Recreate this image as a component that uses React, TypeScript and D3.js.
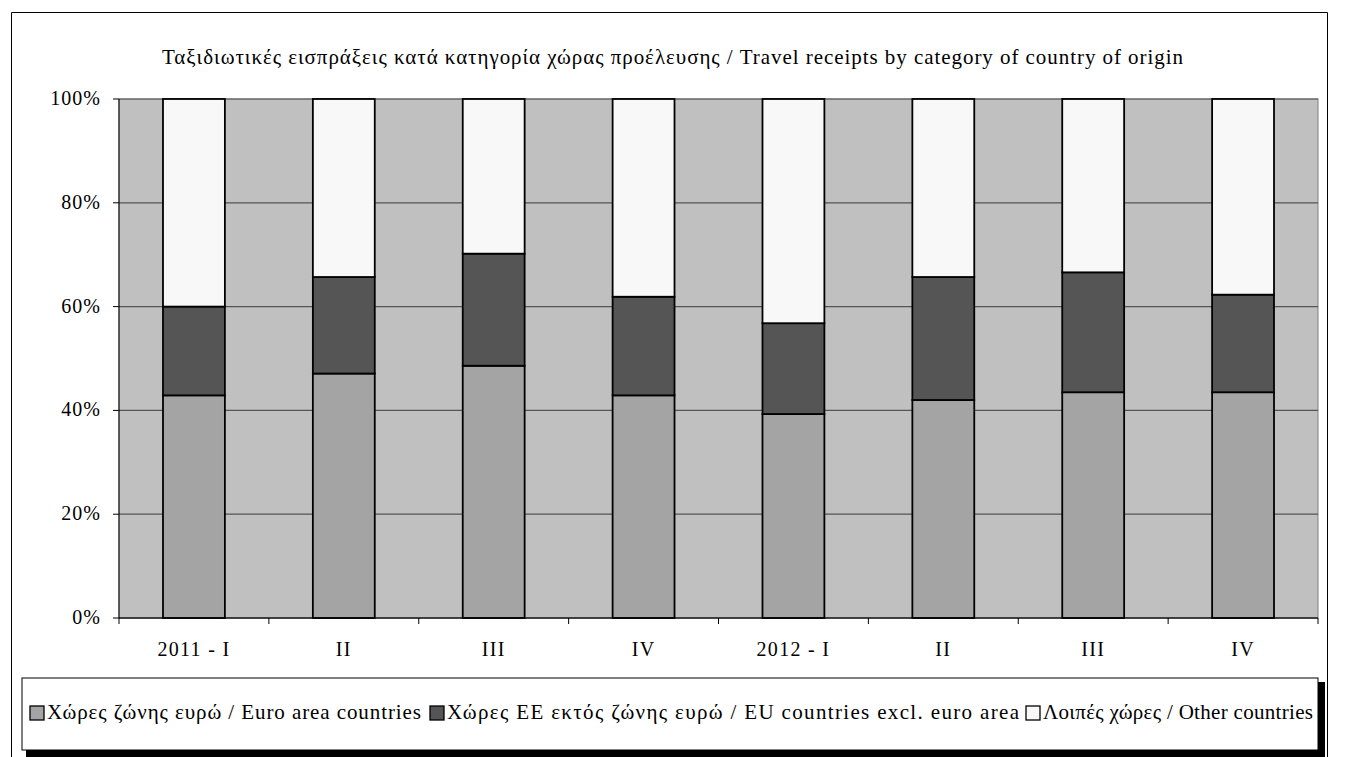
import React from "react";
import * as d3 from "d3";

const categories = ["2011 - I", "II", "III", "IV", "2012 - I", "II", "III", "IV"];
const euroArea = [42.9, 47.1, 48.6, 42.9, 39.3, 42.0, 43.5, 43.5];
const euExclEuro = [17.1, 18.6, 21.6, 19.0, 17.5, 23.7, 23.1, 18.8];
const otherCountries = [40.0, 34.3, 29.8, 38.1, 43.2, 34.3, 33.4, 37.7];
const yTicks = [0, 0.2, 0.4, 0.6, 0.8, 1];
const seriesNames = [
  "Χώρες ζώνης ευρώ / Euro area countries",
  "Χώρες ΕΕ εκτός ζώνης ευρώ / EU countries excl. euro area",
  "Λοιπές χώρες / Other countries",
];
const title =
  "Ταξιδιωτικές εισπράξεις κατά κατηγορία χώρας προέλευσης  / Travel receipts by category of country of origin";

const colors = ["#a4a4a4", "#555555", "#f8f8f8"];
const keys = ["euro", "eu", "other"];

export default function App() {
  const W = 1346;
  const H = 757;
  const left = 119;
  const right = 1318;
  const top = 99;
  const bottom = 618;

  const rows = categories.map((c, i) => {
    const tot = euroArea[i] + euExclEuro[i] + otherCountries[i];
    return {
      idx: i,
      euro: euroArea[i] / tot,
      eu: euExclEuro[i] / tot,
      other: otherCountries[i] / tot,
    };
  });
  const stacked = d3.stack<any>().keys(keys)(rows as any);

  const x = d3
    .scaleBand<number>()
    .domain(categories.map((_, i) => i))
    .range([left, right])
    .paddingInner(0)
    .paddingOuter(0);
  const y = d3.scaleLinear().domain([0, 1]).range([bottom, top]);
  const bw = x.bandwidth() * 0.413;

  const font = "'Liberation Serif', 'Times New Roman', serif";

  const legendItems = [
    { sw: 30, tx: 47, len: 374 },
    { sw: 430, tx: 447, len: 572 },
    { sw: 1026, tx: 1043, len: 270 },
  ];

  return (
    <svg
      width={W}
      height={H}
      style={{ position: "absolute", left: 0, top: 0, background: "#fff" }}
      fontFamily={font}
    >
      {/* outer frame */}
      <path d={`M11.5,${H + 2} V12.5 H1327.5 V${H + 2}`} fill="none" stroke="#000" strokeWidth={1} />

      {/* title */}
      <text
        x={162}
        y={64}
        fontSize={21}
        textLength={1021}
        lengthAdjust="spacing"
        fill="#000"
      >
        {title}
      </text>

      {/* plot area */}
      <rect x={left} y={top} width={right - left} height={bottom - top} fill="#c0c0c0" stroke="#808080" strokeWidth={1} />

      {/* gridlines */}
      {yTicks.map((t) => (
        <line key={t} x1={left} x2={right} y1={y(t)} y2={y(t)} stroke="#555" strokeWidth={1.2} />
      ))}

      {/* bars */}
      {stacked.map((s, si) =>
        s.map((d: any, i: number) => {
          const cx = (x(i) as number) + x.bandwidth() / 2;
          return (
            <rect
              key={`${si}-${i}`}
              x={cx - bw / 2}
              y={y(d[1])}
              width={bw}
              height={y(d[0]) - y(d[1])}
              fill={colors[si]}
              stroke="#000"
              strokeWidth={1.8}
            />
          );
        })
      )}

      {/* y axis */}
      <line x1={left} x2={left} y1={top} y2={bottom} stroke="#000" strokeWidth={1} />
      {yTicks.map((t) => (
        <g key={`yt${t}`}>
          <line x1={113} x2={left} y1={y(t)} y2={y(t)} stroke="#000" strokeWidth={1} />
          <text
            x={101}
            y={y(t) + 6}
            textAnchor="end"
            fontSize={20}
            letterSpacing={1}
            fill="#000"
          >
            {d3.format(".0%")(t)}
          </text>
        </g>
      ))}

      {/* x axis */}
      <line x1={left} x2={right} y1={bottom} y2={bottom} stroke="#000" strokeWidth={1} />
      {categories.map((c, i) => (
        <g key={`xt${i}`}>
          <line
            x1={(x(i) as number)}
            x2={(x(i) as number)}
            y1={bottom}
            y2={bottom + 6}
            stroke="#000"
            strokeWidth={1}
          />
          <text
            x={(x(i) as number) + x.bandwidth() / 2}
            y={656}
            textAnchor="middle"
            fontSize={20}
            letterSpacing={1.3}
            fill="#000"
          >
            {c}
          </text>
        </g>
      ))}
      <line x1={right} x2={right} y1={bottom} y2={bottom + 6} stroke="#000" strokeWidth={1} />

      {/* legend */}
      <rect x={26} y={682} width={1299} height={90} fill="#000" />
      <rect x={22} y={678} width={1296} height={72} fill="#fff" stroke="#000" strokeWidth={1} />
      {legendItems.map((it, i) => (
        <g key={`lg${i}`}>
          <rect x={it.sw} y={706} width={14} height={14} fill={colors[i]} stroke="#000" strokeWidth={1.3} />
          <text
            x={it.tx}
            y={719}
            fontSize={21}
            textLength={it.len}
            lengthAdjust="spacing"
            fill="#000"
          >
            {seriesNames[i]}
          </text>
        </g>
      ))}
    </svg>
  );
}
